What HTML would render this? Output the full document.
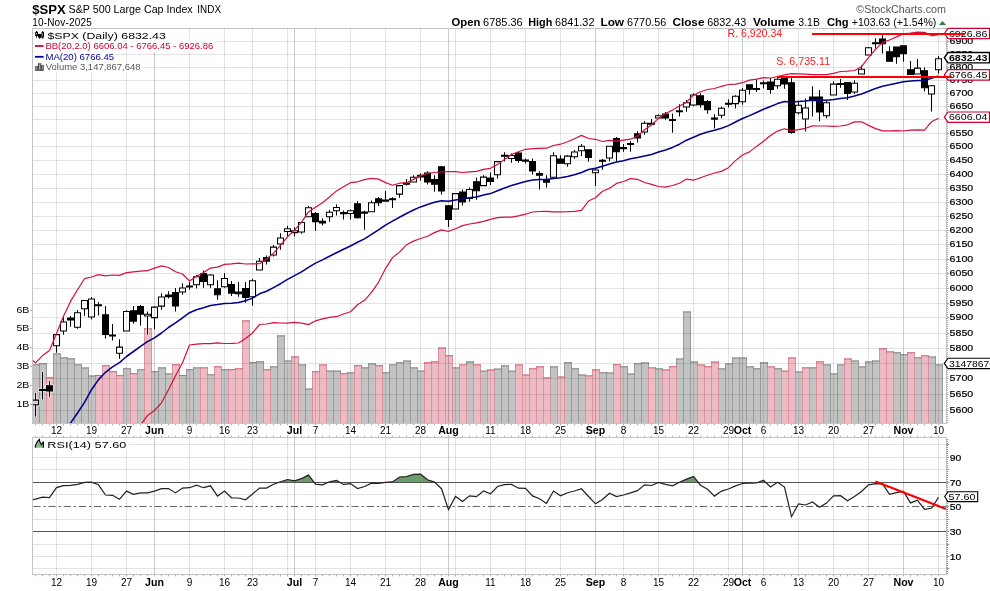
<!DOCTYPE html>
<html><head><meta charset="utf-8"><style>
html,body{margin:0;padding:0;background:#fff;}
svg{display:block;font-family:"Liberation Sans", sans-serif;will-change:transform;}
</style></head><body>
<svg width="990" height="591" viewBox="0 0 990 591">
<rect x="0" y="0" width="990" height="591" fill="#fff"/>

<text x="32.3" y="13.8" font-size="13.4" font-weight="bold" fill="#000" textLength="33.5" lengthAdjust="spacingAndGlyphs">$SPX</text>
<text x="68.6" y="13.3" font-size="10.7" fill="#000" textLength="124.1" lengthAdjust="spacingAndGlyphs">S&amp;P 500 Large Cap Index</text>
<text x="197.3" y="13.3" font-size="10.2" fill="#000" textLength="23.7" lengthAdjust="spacingAndGlyphs">INDX</text>
<text x="32.3" y="25.9" font-size="10" fill="#000" textLength="59.4" lengthAdjust="spacing">10-Nov-2025</text>
<text x="856.3" y="12.7" font-size="10.6" fill="#555" textLength="89.7" lengthAdjust="spacingAndGlyphs">&#169;StockCharts.com</text>
<text x="451.5" y="25.6" font-size="11" font-weight="bold" fill="#000" textLength="28.8" lengthAdjust="spacingAndGlyphs">Open</text>
<text x="483.1" y="25.6" font-size="10.8" fill="#000" textLength="39.6" lengthAdjust="spacingAndGlyphs">6785.36</text>
<text x="528.2" y="25.6" font-size="11" font-weight="bold" fill="#000" textLength="24.1" lengthAdjust="spacingAndGlyphs">High</text>
<text x="555.1" y="25.6" font-size="10.8" fill="#000" textLength="39.4" lengthAdjust="spacingAndGlyphs">6841.32</text>
<text x="600.4" y="25.6" font-size="11" font-weight="bold" fill="#000" textLength="23.7" lengthAdjust="spacingAndGlyphs">Low</text>
<text x="627.0" y="25.6" font-size="10.8" fill="#000" textLength="39.3" lengthAdjust="spacingAndGlyphs">6770.56</text>
<text x="672.4" y="25.6" font-size="11" font-weight="bold" fill="#000" textLength="32.1" lengthAdjust="spacingAndGlyphs">Close</text>
<text x="707.3" y="25.6" font-size="10.8" fill="#000" textLength="39.0" lengthAdjust="spacingAndGlyphs">6832.43</text>
<text x="752.9" y="25.6" font-size="11" font-weight="bold" fill="#000" textLength="42.0" lengthAdjust="spacingAndGlyphs">Volume</text>
<text x="798.3" y="25.6" font-size="10.8" fill="#000" textLength="21.6" lengthAdjust="spacingAndGlyphs">3.1B</text>
<text x="826.9" y="25.6" font-size="11" font-weight="bold" fill="#000" textLength="21.7" lengthAdjust="spacingAndGlyphs">Chg</text>
<text x="851.8" y="25.6" font-size="10.8" fill="#000" textLength="84.5" lengthAdjust="spacingAndGlyphs">+103.63 (+1.54%)</text>
<path d="M939 25 L942.5 21 L946 25 Z" fill="#2e7d32"/>
<defs><clipPath id="cp"><rect x="33" y="29" width="913" height="394"/></clipPath><clipPath id="cr"><rect x="33" y="438" width="913" height="136"/></clipPath></defs>
<g stroke="none"><g fill="#c3c3c3"><rect x="32" y="364.3" width="7" height="59.2"/><rect x="39" y="363.3" width="7" height="60.2"/><rect x="53" y="353.4" width="7" height="70.1"/><rect x="60" y="357.4" width="7" height="66.1"/><rect x="67" y="358.4" width="7" height="65.1"/><rect x="74" y="364.3" width="7" height="59.2"/><rect x="81" y="367.5" width="7" height="56.0"/><rect x="88" y="375.5" width="7" height="48.0"/><rect x="123" y="368.3" width="7" height="55.2"/><rect x="137" y="369.3" width="7" height="54.2"/><rect x="151" y="371.2" width="7" height="52.3"/><rect x="158" y="367.4" width="7" height="56.1"/><rect x="165" y="373.4" width="7" height="50.1"/><rect x="179" y="375.1" width="7" height="48.4"/><rect x="186" y="369.2" width="7" height="54.3"/><rect x="193" y="367.4" width="7" height="56.1"/><rect x="207" y="374.3" width="7" height="49.2"/><rect x="221" y="369.2" width="7" height="54.3"/><rect x="249" y="362.1" width="7" height="61.4"/><rect x="256" y="361.3" width="7" height="62.2"/><rect x="270" y="366.4" width="7" height="57.1"/><rect x="277" y="335.4" width="7" height="88.1"/><rect x="284" y="360.5" width="7" height="63.0"/><rect x="298" y="364.4" width="7" height="59.1"/><rect x="305" y="388.5" width="7" height="35.0"/><rect x="326" y="370.6" width="7" height="52.9"/><rect x="333" y="370.6" width="7" height="52.9"/><rect x="347" y="372.3" width="7" height="51.2"/><rect x="361" y="367.4" width="7" height="56.1"/><rect x="368" y="363.5" width="7" height="60.0"/><rect x="382" y="372.3" width="7" height="51.2"/><rect x="389" y="364.4" width="7" height="59.1"/><rect x="396" y="362.3" width="7" height="61.2"/><rect x="403" y="360.5" width="7" height="63.0"/><rect x="410" y="367.4" width="7" height="56.1"/><rect x="417" y="370.6" width="7" height="52.9"/><rect x="452" y="367.4" width="7" height="56.1"/><rect x="466" y="361.4" width="7" height="62.1"/><rect x="480" y="370.6" width="7" height="52.9"/><rect x="494" y="368.6" width="7" height="54.9"/><rect x="501" y="365.4" width="7" height="58.1"/><rect x="508" y="370.6" width="7" height="52.9"/><rect x="550" y="366.4" width="7" height="57.1"/><rect x="564" y="362.3" width="7" height="61.2"/><rect x="571" y="368.3" width="7" height="55.2"/><rect x="578" y="374.5" width="7" height="49.0"/><rect x="599" y="372.3" width="7" height="51.2"/><rect x="606" y="372.5" width="7" height="51.0"/><rect x="620" y="366.3" width="7" height="57.2"/><rect x="627" y="373.5" width="7" height="50.0"/><rect x="634" y="363.3" width="7" height="60.2"/><rect x="641" y="362.4" width="7" height="61.1"/><rect x="655" y="368.4" width="7" height="55.1"/><rect x="676" y="358.5" width="7" height="65.0"/><rect x="683" y="311.5" width="7" height="112.0"/><rect x="690" y="361.5" width="7" height="62.0"/><rect x="718" y="368.4" width="7" height="55.1"/><rect x="725" y="363.5" width="7" height="60.0"/><rect x="732" y="357.5" width="7" height="66.0"/><rect x="739" y="357.5" width="7" height="66.0"/><rect x="746" y="366.4" width="7" height="57.1"/><rect x="753" y="368.3" width="7" height="55.2"/><rect x="760" y="362.3" width="7" height="61.2"/><rect x="774" y="368.3" width="7" height="55.2"/><rect x="795" y="371.5" width="7" height="52.0"/><rect x="809" y="367.4" width="7" height="56.1"/><rect x="823" y="364.4" width="7" height="59.1"/><rect x="830" y="373.5" width="7" height="50.0"/><rect x="837" y="364.4" width="7" height="59.1"/><rect x="851" y="360.5" width="7" height="63.0"/><rect x="858" y="366.4" width="7" height="57.1"/><rect x="865" y="361.4" width="7" height="62.1"/><rect x="872" y="360.5" width="7" height="63.0"/><rect x="893" y="352.3" width="7" height="71.2"/><rect x="900" y="354.3" width="7" height="69.2"/><rect x="914" y="357.3" width="7" height="66.2"/><rect x="928" y="356.5" width="7" height="67.0"/><rect x="935" y="364.4" width="7" height="59.1"/></g><g fill="#ecbbc4"><rect x="46" y="377.3" width="7" height="46.2"/><rect x="95" y="375.0" width="7" height="48.5"/><rect x="102" y="365.2" width="7" height="58.3"/><rect x="109" y="371.2" width="7" height="52.3"/><rect x="116" y="375.2" width="7" height="48.3"/><rect x="130" y="373.2" width="7" height="50.3"/><rect x="144" y="328.3" width="7" height="95.2"/><rect x="172" y="364.2" width="7" height="59.3"/><rect x="200" y="367.4" width="7" height="56.1"/><rect x="214" y="366.3" width="7" height="57.2"/><rect x="228" y="369.2" width="7" height="54.3"/><rect x="235" y="368.3" width="7" height="55.2"/><rect x="242" y="320.4" width="7" height="103.1"/><rect x="263" y="369.2" width="7" height="54.3"/><rect x="291" y="356.4" width="7" height="67.1"/><rect x="312" y="371.3" width="7" height="52.2"/><rect x="319" y="364.4" width="7" height="59.1"/><rect x="340" y="373.3" width="7" height="50.2"/><rect x="354" y="365.2" width="7" height="58.3"/><rect x="375" y="365.2" width="7" height="58.3"/><rect x="424" y="362.3" width="7" height="61.2"/><rect x="431" y="361.4" width="7" height="62.1"/><rect x="438" y="347.5" width="7" height="76.0"/><rect x="445" y="355.3" width="7" height="68.2"/><rect x="459" y="364.4" width="7" height="59.1"/><rect x="473" y="364.4" width="7" height="59.1"/><rect x="487" y="369.5" width="7" height="54.0"/><rect x="515" y="364.4" width="7" height="59.1"/><rect x="522" y="374.5" width="7" height="49.0"/><rect x="529" y="368.3" width="7" height="55.2"/><rect x="536" y="366.4" width="7" height="57.1"/><rect x="543" y="377.4" width="7" height="46.1"/><rect x="557" y="376.5" width="7" height="47.0"/><rect x="585" y="375.4" width="7" height="48.1"/><rect x="592" y="369.4" width="7" height="54.1"/><rect x="613" y="364.2" width="7" height="59.3"/><rect x="648" y="367.4" width="7" height="56.1"/><rect x="662" y="369.5" width="7" height="54.0"/><rect x="669" y="366.3" width="7" height="57.2"/><rect x="697" y="364.5" width="7" height="59.0"/><rect x="704" y="366.3" width="7" height="57.2"/><rect x="711" y="361.5" width="7" height="62.0"/><rect x="767" y="366.4" width="7" height="57.1"/><rect x="781" y="370.6" width="7" height="52.9"/><rect x="788" y="357.5" width="7" height="66.0"/><rect x="802" y="367.4" width="7" height="56.1"/><rect x="816" y="361.4" width="7" height="62.1"/><rect x="844" y="358.5" width="7" height="65.0"/><rect x="879" y="348.4" width="7" height="75.1"/><rect x="886" y="351.4" width="7" height="72.1"/><rect x="907" y="352.3" width="7" height="71.2"/><rect x="921" y="355.3" width="7" height="68.2"/></g></g>
<path d="M32.5 364.3V423.5M39.5 364.3V423.5M39.5 363.3V423.5M46.5 363.3V423.5M53.5 353.4V423.5M60.5 353.4V423.5M60.5 357.4V423.5M67.5 357.4V423.5M67.5 358.4V423.5M74.5 358.4V423.5M74.5 364.3V423.5M81.5 364.3V423.5M81.5 367.5V423.5M88.5 367.5V423.5M88.5 375.5V423.5M95.5 375.5V423.5M123.5 368.3V423.5M130.5 368.3V423.5M137.5 369.3V423.5M144.5 369.3V423.5M151.5 371.2V423.5M158.5 371.2V423.5M158.5 367.4V423.5M165.5 367.4V423.5M165.5 373.4V423.5M172.5 373.4V423.5M179.5 375.1V423.5M186.5 375.1V423.5M186.5 369.2V423.5M193.5 369.2V423.5M193.5 367.4V423.5M200.5 367.4V423.5M207.5 374.3V423.5M214.5 374.3V423.5M221.5 369.2V423.5M228.5 369.2V423.5M249.5 362.1V423.5M256.5 362.1V423.5M256.5 361.3V423.5M263.5 361.3V423.5M270.5 366.4V423.5M277.5 366.4V423.5M277.5 335.4V423.5M284.5 335.4V423.5M284.5 360.5V423.5M291.5 360.5V423.5M298.5 364.4V423.5M305.5 364.4V423.5M305.5 388.5V423.5M312.5 388.5V423.5M326.5 370.6V423.5M333.5 370.6V423.5M333.5 370.6V423.5M340.5 370.6V423.5M347.5 372.3V423.5M354.5 372.3V423.5M361.5 367.4V423.5M368.5 367.4V423.5M368.5 363.5V423.5M375.5 363.5V423.5M382.5 372.3V423.5M389.5 372.3V423.5M389.5 364.4V423.5M396.5 364.4V423.5M396.5 362.3V423.5M403.5 362.3V423.5M403.5 360.5V423.5M410.5 360.5V423.5M410.5 367.4V423.5M417.5 367.4V423.5M417.5 370.6V423.5M424.5 370.6V423.5M452.5 367.4V423.5M459.5 367.4V423.5M466.5 361.4V423.5M473.5 361.4V423.5M480.5 370.6V423.5M487.5 370.6V423.5M494.5 368.6V423.5M501.5 368.6V423.5M501.5 365.4V423.5M508.5 365.4V423.5M508.5 370.6V423.5M515.5 370.6V423.5M550.5 366.4V423.5M557.5 366.4V423.5M564.5 362.3V423.5M571.5 362.3V423.5M571.5 368.3V423.5M578.5 368.3V423.5M578.5 374.5V423.5M585.5 374.5V423.5M599.5 372.3V423.5M606.5 372.3V423.5M606.5 372.5V423.5M613.5 372.5V423.5M620.5 366.3V423.5M627.5 366.3V423.5M627.5 373.5V423.5M634.5 373.5V423.5M634.5 363.3V423.5M641.5 363.3V423.5M641.5 362.4V423.5M648.5 362.4V423.5M655.5 368.4V423.5M662.5 368.4V423.5M676.5 358.5V423.5M683.5 358.5V423.5M683.5 311.5V423.5M690.5 311.5V423.5M690.5 361.5V423.5M697.5 361.5V423.5M718.5 368.4V423.5M725.5 368.4V423.5M725.5 363.5V423.5M732.5 363.5V423.5M732.5 357.5V423.5M739.5 357.5V423.5M739.5 357.5V423.5M746.5 357.5V423.5M746.5 366.4V423.5M753.5 366.4V423.5M753.5 368.3V423.5M760.5 368.3V423.5M760.5 362.3V423.5M767.5 362.3V423.5M774.5 368.3V423.5M781.5 368.3V423.5M795.5 371.5V423.5M802.5 371.5V423.5M809.5 367.4V423.5M816.5 367.4V423.5M823.5 364.4V423.5M830.5 364.4V423.5M830.5 373.5V423.5M837.5 373.5V423.5M837.5 364.4V423.5M844.5 364.4V423.5M851.5 360.5V423.5M858.5 360.5V423.5M858.5 366.4V423.5M865.5 366.4V423.5M865.5 361.4V423.5M872.5 361.4V423.5M872.5 360.5V423.5M879.5 360.5V423.5M893.5 352.3V423.5M900.5 352.3V423.5M900.5 354.3V423.5M907.5 354.3V423.5M914.5 357.3V423.5M921.5 357.3V423.5M928.5 356.5V423.5M935.5 356.5V423.5M935.5 364.4V423.5M942.5 364.4V423.5" stroke="#9a9a9a" stroke-width="1" fill="none"/>
<path d="M46.5 377.3V423.5M53.5 377.3V423.5M95.5 375.0V423.5M102.5 375.0V423.5M102.5 365.2V423.5M109.5 365.2V423.5M109.5 371.2V423.5M116.5 371.2V423.5M116.5 375.2V423.5M123.5 375.2V423.5M130.5 373.2V423.5M137.5 373.2V423.5M144.5 328.3V423.5M151.5 328.3V423.5M172.5 364.2V423.5M179.5 364.2V423.5M200.5 367.4V423.5M207.5 367.4V423.5M214.5 366.3V423.5M221.5 366.3V423.5M228.5 369.2V423.5M235.5 369.2V423.5M235.5 368.3V423.5M242.5 368.3V423.5M242.5 320.4V423.5M249.5 320.4V423.5M263.5 369.2V423.5M270.5 369.2V423.5M291.5 356.4V423.5M298.5 356.4V423.5M312.5 371.3V423.5M319.5 371.3V423.5M319.5 364.4V423.5M326.5 364.4V423.5M340.5 373.3V423.5M347.5 373.3V423.5M354.5 365.2V423.5M361.5 365.2V423.5M375.5 365.2V423.5M382.5 365.2V423.5M424.5 362.3V423.5M431.5 362.3V423.5M431.5 361.4V423.5M438.5 361.4V423.5M438.5 347.5V423.5M445.5 347.5V423.5M445.5 355.3V423.5M452.5 355.3V423.5M459.5 364.4V423.5M466.5 364.4V423.5M473.5 364.4V423.5M480.5 364.4V423.5M487.5 369.5V423.5M494.5 369.5V423.5M515.5 364.4V423.5M522.5 364.4V423.5M522.5 374.5V423.5M529.5 374.5V423.5M529.5 368.3V423.5M536.5 368.3V423.5M536.5 366.4V423.5M543.5 366.4V423.5M543.5 377.4V423.5M550.5 377.4V423.5M557.5 376.5V423.5M564.5 376.5V423.5M585.5 375.4V423.5M592.5 375.4V423.5M592.5 369.4V423.5M599.5 369.4V423.5M613.5 364.2V423.5M620.5 364.2V423.5M648.5 367.4V423.5M655.5 367.4V423.5M662.5 369.5V423.5M669.5 369.5V423.5M669.5 366.3V423.5M676.5 366.3V423.5M697.5 364.5V423.5M704.5 364.5V423.5M704.5 366.3V423.5M711.5 366.3V423.5M711.5 361.5V423.5M718.5 361.5V423.5M767.5 366.4V423.5M774.5 366.4V423.5M781.5 370.6V423.5M788.5 370.6V423.5M788.5 357.5V423.5M795.5 357.5V423.5M802.5 367.4V423.5M809.5 367.4V423.5M816.5 361.4V423.5M823.5 361.4V423.5M844.5 358.5V423.5M851.5 358.5V423.5M879.5 348.4V423.5M886.5 348.4V423.5M886.5 351.4V423.5M893.5 351.4V423.5M907.5 352.3V423.5M914.5 352.3V423.5M921.5 355.3V423.5M928.5 355.3V423.5" stroke="#dc93a0" stroke-width="1" fill="none"/>
<path d="M32 364.8H40M39 363.8H47M53 353.9H61M60 357.9H68M67 358.9H75M74 364.8H82M81 368.0H89M88 376.0H96M123 368.8H131M137 369.8H145M151 371.7H159M158 367.9H166M165 373.9H173M179 375.6H187M186 369.7H194M193 367.9H201M207 374.8H215M221 369.7H229M249 362.6H257M256 361.8H264M270 366.9H278M277 335.9H285M284 361.0H292M298 364.9H306M305 389.0H313M326 371.1H334M333 371.1H341M347 372.8H355M361 367.9H369M368 364.0H376M382 372.8H390M389 364.9H397M396 362.8H404M403 361.0H411M410 367.9H418M417 371.1H425M452 367.9H460M466 361.9H474M480 371.1H488M494 369.1H502M501 365.9H509M508 371.1H516M550 366.9H558M564 362.8H572M571 368.8H579M578 375.0H586M599 372.8H607M606 373.0H614M620 366.8H628M627 374.0H635M634 363.8H642M641 362.9H649M655 368.9H663M676 359.0H684M683 312.0H691M690 362.0H698M718 368.9H726M725 364.0H733M732 358.0H740M739 358.0H747M746 366.9H754M753 368.8H761M760 362.8H768M774 368.8H782M795 372.0H803M809 367.9H817M823 364.9H831M830 374.0H838M837 364.9H845M851 361.0H859M858 366.9H866M865 361.9H873M872 361.0H880M893 352.8H901M900 354.8H908M914 357.8H922M928 357.0H936M935 364.9H943" stroke="#858585" stroke-width="1" fill="none"/>
<path d="M46 377.8H54M95 375.5H103M102 365.7H110M109 371.7H117M116 375.7H124M130 373.7H138M144 328.8H152M172 364.7H180M200 367.9H208M214 366.8H222M228 369.7H236M235 368.8H243M242 320.9H250M263 369.7H271M291 356.9H299M312 371.8H320M319 364.9H327M340 373.8H348M354 365.7H362M375 365.7H383M424 362.8H432M431 361.9H439M438 348.0H446M445 355.8H453M459 364.9H467M473 364.9H481M487 370.0H495M515 364.9H523M522 375.0H530M529 368.8H537M536 366.9H544M543 377.9H551M557 377.0H565M585 375.9H593M592 369.9H600M613 364.7H621M648 367.9H656M662 370.0H670M669 366.8H677M697 365.0H705M704 366.8H712M711 362.0H719M767 366.9H775M781 371.1H789M788 358.0H796M802 367.9H810M816 361.9H824M844 359.0H852M879 348.9H887M886 351.9H894M907 352.8H915M921 355.8H929" stroke="#d06476" stroke-width="1" fill="none"/>
<path d="M32.5 410.5H946.5M32.5 394.5H946.5M32.5 378.5H946.5M32.5 363.5H946.5M32.5 348.5H946.5M32.5 333.5H946.5M32.5 317.5H946.5M32.5 303.5H946.5M32.5 288.5H946.5M32.5 273.5H946.5M32.5 259.5H946.5M32.5 244.5H946.5M32.5 230.5H946.5M32.5 216.5H946.5M32.5 202.5H946.5M32.5 188.5H946.5M32.5 174.5H946.5M32.5 160.5H946.5M32.5 146.5H946.5M32.5 133.5H946.5M32.5 119.5H946.5M32.5 106.5H946.5M32.5 93.5H946.5M32.5 80.5H946.5M32.5 67.5H946.5M32.5 54.5H946.5M32.5 41.5H946.5" stroke="#000" stroke-opacity="0.11" stroke-width="1" fill="none"/>
<path d="M56.5 28.5V423.5M56.5 437.5V574.5M91.5 28.5V423.5M91.5 437.5V574.5M126.5 28.5V423.5M126.5 437.5V574.5M189.5 28.5V423.5M189.5 437.5V574.5M224.5 28.5V423.5M224.5 437.5V574.5M252.5 28.5V423.5M252.5 437.5V574.5M287.5 28.5V423.5M287.5 437.5V574.5M315.5 28.5V423.5M315.5 437.5V574.5M350.5 28.5V423.5M350.5 437.5V574.5M385.5 28.5V423.5M385.5 437.5V574.5M420.5 28.5V423.5M420.5 437.5V574.5M455.5 28.5V423.5M455.5 437.5V574.5M490.5 28.5V423.5M490.5 437.5V574.5M525.5 28.5V423.5M525.5 437.5V574.5M560.5 28.5V423.5M560.5 437.5V574.5M623.5 28.5V423.5M623.5 437.5V574.5M658.5 28.5V423.5M658.5 437.5V574.5M693.5 28.5V423.5M693.5 437.5V574.5M728.5 28.5V423.5M728.5 437.5V574.5M763.5 28.5V423.5M763.5 437.5V574.5M798.5 28.5V423.5M798.5 437.5V574.5M833.5 28.5V423.5M833.5 437.5V574.5M868.5 28.5V423.5M868.5 437.5V574.5M938.5 28.5V423.5M938.5 437.5V574.5" stroke="#000" stroke-opacity="0.11" stroke-width="1" fill="none"/>
<path d="M154.5 28.5V423.5M154.5 437.5V574.5M294.5 28.5V423.5M294.5 437.5V574.5M448.5 28.5V423.5M448.5 437.5V574.5M595.5 28.5V423.5M595.5 437.5V574.5M742.5 28.5V423.5M742.5 437.5V574.5M903.5 28.5V423.5M903.5 437.5V574.5" stroke="#000" stroke-opacity="0.2" stroke-width="1" fill="none"/>
<g clip-path="url(#cp)">
<path d="M35.5 392.6V399.6M35.5 405.3V417.0M32.5 400.1h6v4.7h-6ZM42.5 371.5V388.9M42.5 390.9V400.1M39.5 389.4h6v1.0h-6ZM49.5 380.7V385.3M49.5 391.6V397.3M46.5 385.8h6v5.3h-6ZM56.5 333.0V334.1M56.5 346.3V353.3M53.5 334.6h6v11.2h-6ZM63.5 316.7V321.4M63.5 331.5V335.3M60.5 321.9h6v9.1h-6ZM70.5 315.5V317.6M70.5 320.4V327.2M67.5 318.1h6v1.8h-6ZM77.5 309.6V312.3M77.5 327.7V329.3M74.5 312.8h6v14.4h-6ZM84.5 309.2V316.3M81.5 300.4h6v8.3h-6ZM91.5 296.6V298.4M91.5 317.5V320.1M88.5 298.9h6v18.1h-6ZM98.5 301.4V304.2M98.5 306.2V316.0M95.5 304.8h6v1.0h-6ZM105.5 305.6V314.3M105.5 334.9V339.1M102.5 314.8h6v19.6h-6ZM112.5 323.6V334.4M112.5 336.4V341.1M109.5 334.9h6v1.0h-6ZM119.5 338.7V346.6M119.5 353.7V359.2M116.5 347.1h6v6.1h-6ZM126.5 309.7V310.9M123.5 311.4h6v19.6h-6ZM133.5 305.6V310.2M133.5 321.6V324.3M130.5 310.7h6v10.4h-6ZM140.5 304.6V306.1M140.5 314.6V326.1M137.5 306.6h6v7.5h-6ZM147.5 310.9V313.8M147.5 316.6V335.2M144.5 314.3h6v1.8h-6ZM154.5 305.8V306.6M154.5 318.1V330.0M151.5 307.1h6v10.5h-6ZM161.5 292.7V296.4M161.5 306.6V310.3M158.5 296.9h6v9.2h-6ZM168.5 290.7V294.4M168.5 297.1V299.1M165.5 294.9h6v1.7h-6ZM175.5 287.6V292.0M175.5 306.5V312.1M172.5 292.5h6v13.5h-6ZM182.5 282.7V287.5M182.5 292.4V295.3M179.5 288.0h6v3.9h-6ZM189.5 281.5V285.4M189.5 287.4V290.2M186.5 285.9h6v1.0h-6ZM196.5 274.6V276.3M196.5 285.3V289.0M193.5 276.8h6v8.0h-6ZM203.5 269.9V273.1M203.5 282.0V288.2M200.5 273.6h6v7.9h-6ZM210.5 273.8V274.4M210.5 285.3V288.2M207.5 274.9h6v9.9h-6ZM217.5 279.7V288.3M217.5 295.3V300.2M214.5 288.8h6v6.0h-6ZM224.5 272.6V277.9M224.5 287.3V288.2M221.5 278.4h6v8.4h-6ZM231.5 280.5V284.1M231.5 293.6V296.5M228.5 284.6h6v8.5h-6ZM238.5 281.5V291.5M238.5 294.2V297.3M235.5 292.0h6v1.7h-6ZM245.5 281.5V288.1M245.5 298.0V303.2M242.5 288.6h6v8.9h-6ZM252.5 278.3V280.2M252.5 297.1V306.2M249.5 280.8h6v15.9h-6ZM259.5 257.6V260.7M256.5 261.2h6v8.7h-6ZM266.5 255.0V257.1M266.5 261.6V264.9M263.5 257.6h6v3.5h-6ZM273.5 244.6V246.6M273.5 255.4V257.1M270.5 247.1h6v7.8h-6ZM280.5 232.7V237.4M280.5 244.5V250.3M277.5 237.9h6v6.1h-6ZM287.5 225.3V228.3M287.5 232.0V236.7M284.5 228.8h6v2.7h-6ZM294.5 226.8V230.3M294.5 233.1V236.9M291.5 230.8h6v1.8h-6ZM301.5 232.4V234.3M298.5 222.4h6v9.5h-6ZM308.5 205.5V207.3M305.5 207.8h6v8.9h-6ZM315.5 211.4V213.1M315.5 222.1V231.4M312.5 213.6h6v8.0h-6ZM322.5 217.7V220.8M322.5 223.4V226.0M319.5 221.3h6v1.6h-6ZM329.5 209.6V211.8M329.5 217.2V222.2M326.5 212.3h6v4.4h-6ZM336.5 203.7V207.0M336.5 211.3V216.0M333.5 207.5h6v3.3h-6ZM343.5 209.9V212.1M343.5 214.1V220.1M340.5 212.6h6v1.0h-6ZM350.5 209.0V210.3M350.5 213.9V220.1M347.5 210.8h6v2.6h-6ZM357.5 200.8V203.3M357.5 218.2V218.9M354.5 203.8h6v13.9h-6ZM364.5 210.2V211.6M364.5 213.6V230.2M361.5 212.1h6v1.0h-6ZM371.5 199.9V202.2M368.5 202.7h6v9.1h-6ZM378.5 196.6V198.3M378.5 203.3V206.5M375.5 198.8h6v4.0h-6ZM385.5 190.5V199.6M382.5 200.1h6v1.0h-6ZM392.5 196.8V198.2M392.5 200.2V208.5M389.5 198.7h6v1.0h-6ZM399.5 184.5V185.1M399.5 194.6V198.2M396.5 185.6h6v8.5h-6ZM406.5 178.5V182.6M406.5 184.7V186.0M403.5 183.1h6v1.1h-6ZM413.5 174.7V176.8M410.5 177.3h6v4.7h-6ZM420.5 172.8V174.8M420.5 177.4V181.2M417.5 175.3h6v1.6h-6ZM427.5 170.8V172.4M427.5 182.6V185.1M424.5 172.9h6v9.2h-6ZM434.5 174.7V178.9M434.5 184.8V192.2M431.5 179.4h6v4.9h-6ZM441.5 165.5V166.2M441.5 191.4V195.1M438.5 166.7h6v24.2h-6ZM448.5 204.5V205.2M448.5 219.8V227.4M445.5 205.7h6v13.7h-6ZM455.5 192.5V193.1M452.5 193.6h6v15.4h-6ZM462.5 189.1V191.4M462.5 202.6V206.1M459.5 191.9h6v10.2h-6ZM469.5 187.0V188.9M469.5 199.1V202.2M466.5 189.4h6v9.2h-6ZM476.5 177.0V181.3M476.5 191.2V200.2M473.5 181.8h6v8.9h-6ZM483.5 174.7V176.6M480.5 177.1h6v8.5h-6ZM490.5 171.9V177.5M490.5 181.9V185.4M487.5 178.0h6v3.4h-6ZM497.5 160.5V161.1M497.5 175.3V179.0M494.5 161.6h6v13.2h-6ZM504.5 151.7V154.7M504.5 156.7V162.0M501.5 155.2h6v1.0h-6ZM511.5 152.9V154.9M511.5 159.1V163.2M508.5 155.4h6v3.2h-6ZM518.5 151.1V152.5M518.5 160.9V163.2M515.5 153.0h6v7.4h-6ZM525.5 157.9V159.6M525.5 161.6V164.0M522.5 160.1h6v1.0h-6ZM532.5 157.9V161.1M532.5 171.4V175.0M529.5 161.6h6v9.3h-6ZM539.5 170.7V172.9M539.5 175.8V190.0M536.5 173.4h6v1.8h-6ZM546.5 174.8V179.2M546.5 182.8V188.0M543.5 179.7h6v2.6h-6ZM553.5 151.7V155.3M550.5 155.8h6v21.4h-6ZM560.5 154.7V158.4M557.5 158.9h6v4.4h-6ZM567.5 154.7V155.6M567.5 164.3V167.2M564.5 156.1h6v7.7h-6ZM574.5 149.6V151.4M574.5 157.2V159.3M571.5 151.9h6v4.8h-6ZM581.5 143.4V145.8M581.5 151.3V156.5M578.5 146.3h6v4.5h-6ZM588.5 158.0V162.2M585.5 149.8h6v7.7h-6ZM595.5 168.8V169.4M595.5 173.3V186.5M592.5 169.9h6v2.9h-6ZM602.5 158.6V159.8M602.5 161.8V170.2M599.5 160.3h6v1.0h-6ZM609.5 158.6V162.1M606.5 146.2h6v11.8h-6ZM616.5 136.5V138.1M616.5 152.2V162.1M613.5 138.6h6v13.1h-6ZM623.5 143.6V147.1M623.5 149.1V152.2M620.5 147.6h6v1.0h-6ZM630.5 140.8V142.9M630.5 145.1V152.2M627.5 143.4h6v1.2h-6ZM637.5 130.7V133.2M637.5 138.5V143.0M634.5 133.7h6v4.3h-6ZM644.5 120.7V122.7M644.5 132.5V135.2M641.5 123.2h6v8.8h-6ZM651.5 118.6V122.8M648.5 123.3h6v1.0h-6ZM658.5 113.8V115.3M655.5 115.8h6v2.2h-6ZM665.5 111.5V113.4M665.5 118.5V120.2M662.5 113.9h6v4.0h-6ZM672.5 112.9V118.9M672.5 120.9V133.2M669.5 119.4h6v1.0h-6ZM679.5 103.8V110.3M679.5 112.3V117.0M676.5 110.8h6v1.0h-6ZM686.5 99.6V102.2M686.5 107.5V112.2M683.5 102.7h6v4.3h-6ZM693.5 92.8V94.5M693.5 105.5V106.8M690.5 95.0h6v10.0h-6ZM700.5 92.8V95.2M700.5 105.1V108.3M697.5 95.7h6v8.9h-6ZM707.5 99.6V101.1M707.5 110.1V114.3M704.5 101.6h6v8.0h-6ZM714.5 113.8V117.6M714.5 119.6V129.1M711.5 118.1h6v1.0h-6ZM721.5 105.9V107.7M721.5 115.7V118.8M718.5 108.2h6v7.0h-6ZM728.5 98.8V102.7M728.5 104.7V107.9M725.5 103.2h6v1.0h-6ZM735.5 94.7V95.8M735.5 104.1V109.1M732.5 96.3h6v7.3h-6ZM742.5 87.6V89.8M742.5 102.3V105.2M739.5 90.3h6v11.5h-6ZM749.5 89.7V95.1M746.5 84.7h6v4.5h-6ZM756.5 78.5V87.9M756.5 89.9V92.5M753.5 88.4h6v1.0h-6ZM763.5 79.9V82.2M763.5 84.2V88.9M760.5 82.7h6v1.0h-6ZM770.5 77.5V81.6M770.5 89.9V94.2M767.5 82.1h6v7.3h-6ZM777.5 77.8V78.7M777.5 86.3V89.2M774.5 79.2h6v6.6h-6ZM784.5 84.5V89.2M781.5 78.5h6v5.5h-6ZM791.5 77.8V82.2M791.5 133.0V134.2M788.5 82.7h6v49.8h-6ZM798.5 101.2V104.8M798.5 113.3V115.0M795.5 105.3h6v7.5h-6ZM805.5 97.9V107.5M805.5 119.5V132.1M802.5 108.0h6v11.0h-6ZM812.5 85.8V96.4M812.5 101.3V117.0M809.5 96.9h6v3.9h-6ZM819.5 89.6V96.4M819.5 112.5V121.8M816.5 96.9h6v15.1h-6ZM826.5 100.3V102.3M826.5 116.2V118.8M823.5 102.8h6v12.9h-6ZM833.5 80.7V83.6M830.5 84.1h6v10.8h-6ZM840.5 78.6V82.9M840.5 84.9V88.3M837.5 83.4h6v1.0h-6ZM847.5 93.9V100.5M844.5 82.6h6v10.8h-6ZM854.5 79.8V82.7M854.5 92.5V94.5M851.5 83.2h6v8.8h-6ZM861.5 65.0V68.8M858.5 69.3h6v4.6h-6ZM868.5 46.5V47.2M865.5 47.7h6v7.3h-6ZM875.5 37.8V42.2M875.5 44.2V48.9M872.5 42.8h6v1.0h-6ZM882.5 34.8V38.5M882.5 44.2V53.9M879.5 39.0h6v4.7h-6ZM889.5 45.8V51.3M886.5 51.8h6v9.5h-6ZM896.5 57.1V64.3M893.5 47.1h6v9.5h-6ZM903.5 54.1V62.2M900.5 45.7h6v7.9h-6ZM910.5 60.5V69.3M907.5 69.8h6v4.6h-6ZM917.5 58.5V67.6M914.5 68.1h6v5.8h-6ZM924.5 66.8V70.3M924.5 88.3V92.1M921.5 70.8h6v17.0h-6ZM931.5 84.5V85.2M931.5 94.5V112.1M928.5 85.7h6v8.3h-6ZM938.5 55.6V58.2M938.5 70.3V74.3M935.5 58.7h6v11.1h-6Z" stroke="#fff" stroke-opacity="0.5" stroke-width="3" fill="none"/>
<path d="M35.5 393.1V400.1M35.5 404.8V416.5M42.5 372.0V389.4M42.5 390.4V399.6M49.5 381.2V385.8M49.5 391.1V396.8M56.5 333.5V334.6M56.5 345.8V352.8M63.5 317.2V321.9M63.5 331.0V334.8M70.5 316.0V318.1M70.5 319.9V326.7M77.5 310.1V312.8M77.5 327.2V328.8M84.5 308.7V315.8M91.5 297.1V298.9M91.5 317.0V319.6M98.5 301.9V304.8M98.5 305.8V315.5M105.5 306.1V314.8M105.5 334.4V338.6M112.5 324.1V334.9M112.5 335.9V340.6M119.5 339.2V347.1M119.5 353.2V358.7M126.5 310.2V311.4M133.5 306.1V310.7M133.5 321.1V323.8M140.5 305.1V306.6M140.5 314.1V325.6M147.5 311.4V314.3M147.5 316.1V334.7M154.5 306.3V307.1M154.5 317.6V329.5M161.5 293.2V296.9M161.5 306.1V309.8M168.5 291.2V294.9M168.5 296.6V298.6M175.5 288.1V292.5M175.5 306.0V311.6M182.5 283.2V288.0M182.5 291.9V294.8M189.5 282.0V285.9M189.5 286.9V289.7M196.5 275.1V276.8M196.5 284.8V288.5M203.5 270.4V273.6M203.5 281.5V287.7M210.5 274.3V274.9M210.5 284.8V287.7M217.5 280.2V288.8M217.5 294.8V299.7M224.5 273.1V278.4M224.5 286.8V287.7M231.5 281.0V284.6M231.5 293.1V296.0M238.5 282.0V292.0M238.5 293.7V296.8M245.5 282.0V288.6M245.5 297.5V302.7M252.5 278.8V280.8M252.5 296.6V305.7M259.5 258.1V261.2M266.5 255.5V257.6M266.5 261.1V264.4M273.5 245.1V247.1M273.5 254.9V256.6M280.5 233.2V237.9M280.5 244.0V249.8M287.5 225.8V228.8M287.5 231.5V236.2M294.5 227.3V230.8M294.5 232.6V236.4M301.5 231.9V233.8M308.5 206.0V207.8M315.5 211.9V213.6M315.5 221.6V230.9M322.5 218.2V221.3M322.5 222.9V225.5M329.5 210.1V212.3M329.5 216.7V221.7M336.5 204.2V207.5M336.5 210.8V215.5M343.5 210.4V212.6M343.5 213.6V219.6M350.5 209.5V210.8M350.5 213.4V219.6M357.5 201.3V203.8M357.5 217.7V218.4M364.5 210.7V212.1M364.5 213.1V229.7M371.5 200.4V202.7M378.5 197.1V198.8M378.5 202.8V206.0M385.5 191.0V200.1M392.5 197.3V198.7M392.5 199.7V208.0M399.5 185.0V185.6M399.5 194.1V197.7M406.5 179.0V183.1M406.5 184.2V185.5M413.5 175.2V177.3M420.5 173.3V175.3M420.5 176.9V180.7M427.5 171.3V172.9M427.5 182.1V184.6M434.5 175.2V179.4M434.5 184.3V191.7M441.5 166.0V166.7M441.5 190.9V194.6M448.5 205.0V205.7M448.5 219.3V226.9M455.5 193.0V193.6M462.5 189.6V191.9M462.5 202.1V205.6M469.5 187.5V189.4M469.5 198.6V201.7M476.5 177.5V181.8M476.5 190.7V199.7M483.5 175.2V177.1M490.5 172.4V178.0M490.5 181.4V184.9M497.5 161.0V161.6M497.5 174.8V178.5M504.5 152.2V155.2M504.5 156.2V161.5M511.5 153.4V155.4M511.5 158.6V162.7M518.5 151.6V153.0M518.5 160.4V162.7M525.5 158.4V160.1M525.5 161.1V163.5M532.5 158.4V161.6M532.5 170.9V174.5M539.5 171.2V173.4M539.5 175.2V189.5M546.5 175.3V179.7M546.5 182.3V187.5M553.5 152.2V155.8M560.5 155.2V158.9M567.5 155.2V156.1M567.5 163.8V166.7M574.5 150.1V151.9M574.5 156.7V158.8M581.5 143.9V146.3M581.5 150.8V156.0M588.5 157.5V161.7M595.5 169.3V169.9M595.5 172.8V186.0M602.5 159.1V160.3M602.5 161.3V169.7M609.5 158.1V161.6M616.5 137.0V138.6M616.5 151.7V161.6M623.5 144.1V147.6M623.5 148.6V151.7M630.5 141.3V143.4M630.5 144.6V151.7M637.5 131.2V133.7M637.5 138.0V142.5M644.5 121.2V123.2M644.5 132.0V134.7M651.5 119.1V123.3M658.5 114.3V115.8M665.5 112.0V113.9M665.5 118.0V119.7M672.5 113.4V119.4M672.5 120.4V132.7M679.5 104.3V110.8M679.5 111.8V116.5M686.5 100.1V102.7M686.5 107.0V111.7M693.5 93.3V95.0M693.5 105.0V106.3M700.5 93.3V95.7M700.5 104.6V107.8M707.5 100.1V101.6M707.5 109.6V113.8M714.5 114.3V118.1M714.5 119.1V128.6M721.5 106.4V108.2M721.5 115.2V118.3M728.5 99.3V103.2M728.5 104.2V107.4M735.5 95.2V96.3M735.5 103.6V108.6M742.5 88.1V90.3M742.5 101.8V104.7M749.5 89.2V94.6M756.5 79.0V88.4M756.5 89.4V92.0M763.5 80.4V82.7M763.5 83.7V88.4M770.5 78.0V82.1M770.5 89.4V93.7M777.5 78.3V79.2M777.5 85.8V88.7M784.5 84.0V88.7M791.5 78.3V82.7M791.5 132.5V133.7M798.5 101.7V105.3M798.5 112.8V114.5M805.5 98.4V108.0M805.5 119.0V131.6M812.5 86.3V96.9M812.5 100.8V116.5M819.5 90.1V96.9M819.5 112.0V121.3M826.5 100.8V102.8M826.5 115.7V118.3M833.5 81.2V84.1M840.5 79.1V83.4M840.5 84.4V87.8M847.5 93.4V100.0M854.5 80.3V83.2M854.5 92.0V94.0M861.5 65.5V69.3M868.5 47.0V47.7M875.5 38.3V42.8M875.5 43.8V48.4M882.5 35.3V39.0M882.5 43.7V53.4M889.5 46.3V51.8M896.5 56.6V63.8M903.5 53.6V61.7M910.5 61.0V69.8M917.5 59.0V68.1M924.5 67.3V70.8M924.5 87.8V91.6M931.5 85.0V85.7M931.5 94.0V111.6M938.5 56.1V58.7M938.5 69.8V73.8" stroke="#000" stroke-width="1.05" fill="none"/>
<path d="M46.5 385.8h6v5.3h-6ZM67.5 318.1h6v1.8h-6ZM95.5 304.8h6v1.0h-6ZM102.5 314.8h6v19.6h-6ZM109.5 334.9h6v1.0h-6ZM130.5 310.7h6v10.4h-6ZM137.5 306.6h6v7.5h-6ZM165.5 294.9h6v1.7h-6ZM172.5 292.5h6v13.5h-6ZM200.5 273.6h6v7.9h-6ZM214.5 288.8h6v6.0h-6ZM228.5 284.6h6v8.5h-6ZM235.5 292.0h6v1.7h-6ZM242.5 288.6h6v8.9h-6ZM263.5 257.6h6v3.5h-6ZM312.5 213.6h6v8.0h-6ZM319.5 221.3h6v1.6h-6ZM340.5 212.6h6v1.0h-6ZM354.5 203.8h6v13.9h-6ZM375.5 198.8h6v4.0h-6ZM382.5 200.1h6v1.0h-6ZM389.5 198.7h6v1.0h-6ZM403.5 183.1h6v1.1h-6ZM417.5 175.3h6v1.6h-6ZM424.5 172.9h6v9.2h-6ZM431.5 179.4h6v4.9h-6ZM438.5 166.7h6v24.2h-6ZM445.5 205.7h6v13.7h-6ZM459.5 191.9h6v10.2h-6ZM473.5 181.8h6v8.9h-6ZM487.5 178.0h6v3.4h-6ZM501.5 155.2h6v1.0h-6ZM515.5 153.0h6v7.4h-6ZM522.5 160.1h6v1.0h-6ZM529.5 161.6h6v9.3h-6ZM536.5 173.4h6v1.8h-6ZM543.5 179.7h6v2.6h-6ZM557.5 158.9h6v4.4h-6ZM585.5 149.8h6v7.7h-6ZM599.5 160.3h6v1.0h-6ZM613.5 138.6h6v13.1h-6ZM620.5 147.6h6v1.0h-6ZM634.5 133.7h6v4.3h-6ZM648.5 123.3h6v1.0h-6ZM662.5 113.9h6v4.0h-6ZM669.5 119.4h6v1.0h-6ZM697.5 95.7h6v8.9h-6ZM704.5 101.6h6v8.0h-6ZM711.5 118.1h6v1.0h-6ZM725.5 103.2h6v1.0h-6ZM746.5 84.7h6v4.5h-6ZM753.5 88.4h6v1.0h-6ZM767.5 82.1h6v7.3h-6ZM781.5 78.5h6v5.5h-6ZM788.5 82.7h6v49.8h-6ZM809.5 96.9h6v3.9h-6ZM816.5 96.9h6v15.1h-6ZM837.5 83.4h6v1.0h-6ZM844.5 82.6h6v10.8h-6ZM872.5 42.8h6v1.0h-6ZM879.5 39.0h6v4.7h-6ZM886.5 51.8h6v9.5h-6ZM893.5 47.1h6v9.5h-6ZM900.5 45.7h6v7.9h-6ZM907.5 69.8h6v4.6h-6ZM921.5 70.8h6v17.0h-6Z" fill="#000" stroke="#000" stroke-width="1.05"/>
<path d="M32.5 400.1h6v4.7h-6ZM39.5 389.4h6v1.0h-6ZM53.5 334.6h6v11.2h-6ZM60.5 321.9h6v9.1h-6ZM74.5 312.8h6v14.4h-6ZM81.5 300.4h6v8.3h-6ZM88.5 298.9h6v18.1h-6ZM116.5 347.1h6v6.1h-6ZM123.5 311.4h6v19.6h-6ZM144.5 314.3h6v1.8h-6ZM151.5 307.1h6v10.5h-6ZM158.5 296.9h6v9.2h-6ZM179.5 288.0h6v3.9h-6ZM186.5 285.9h6v1.0h-6ZM193.5 276.8h6v8.0h-6ZM207.5 274.9h6v9.9h-6ZM221.5 278.4h6v8.4h-6ZM249.5 280.8h6v15.9h-6ZM256.5 261.2h6v8.7h-6ZM270.5 247.1h6v7.8h-6ZM277.5 237.9h6v6.1h-6ZM284.5 228.8h6v2.7h-6ZM291.5 230.8h6v1.8h-6ZM298.5 222.4h6v9.5h-6ZM305.5 207.8h6v8.9h-6ZM326.5 212.3h6v4.4h-6ZM333.5 207.5h6v3.3h-6ZM347.5 210.8h6v2.6h-6ZM361.5 212.1h6v1.0h-6ZM368.5 202.7h6v9.1h-6ZM396.5 185.6h6v8.5h-6ZM410.5 177.3h6v4.7h-6ZM452.5 193.6h6v15.4h-6ZM466.5 189.4h6v9.2h-6ZM480.5 177.1h6v8.5h-6ZM494.5 161.6h6v13.2h-6ZM508.5 155.4h6v3.2h-6ZM550.5 155.8h6v21.4h-6ZM564.5 156.1h6v7.7h-6ZM571.5 151.9h6v4.8h-6ZM578.5 146.3h6v4.5h-6ZM592.5 169.9h6v2.9h-6ZM606.5 146.2h6v11.8h-6ZM627.5 143.4h6v1.2h-6ZM641.5 123.2h6v8.8h-6ZM655.5 115.8h6v2.2h-6ZM676.5 110.8h6v1.0h-6ZM683.5 102.7h6v4.3h-6ZM690.5 95.0h6v10.0h-6ZM718.5 108.2h6v7.0h-6ZM732.5 96.3h6v7.3h-6ZM739.5 90.3h6v11.5h-6ZM760.5 82.7h6v1.0h-6ZM774.5 79.2h6v6.6h-6ZM795.5 105.3h6v7.5h-6ZM802.5 108.0h6v11.0h-6ZM823.5 102.8h6v12.9h-6ZM830.5 84.1h6v10.8h-6ZM851.5 83.2h6v8.8h-6ZM858.5 69.3h6v4.6h-6ZM865.5 47.7h6v7.3h-6ZM914.5 68.1h6v5.8h-6ZM928.5 85.7h6v8.3h-6ZM935.5 58.7h6v11.1h-6Z" fill="none" stroke="#000" stroke-width="1.05"/>
</g>
<g clip-path="url(#cp)" fill="none" stroke-linejoin="round"><polyline points="28.5,356.5 35.5,362.9 42.5,355.6 49.5,350.5 56.5,333.6 63.5,316.3 70.5,301.4 77.5,289.8 84.5,278.7 91.5,277.0 98.5,274.6 105.5,275.8 112.5,275.0 119.5,275.4 126.5,272.6 133.5,271.8 140.5,271.1 147.5,270.7 154.5,268.1 161.5,265.9 168.5,267.5 175.5,271.7 182.5,274.0 189.5,281.0 196.5,276.2 203.5,272.6 210.5,268.1 217.5,267.1 224.5,264.4 231.5,263.9 238.5,263.1 245.5,264.0 252.5,263.9 259.5,263.7 266.5,259.2 273.5,253.1 280.5,245.3 287.5,236.8 294.5,230.1 301.5,222.1 308.5,211.9 315.5,207.3 322.5,202.8 329.5,197.0 336.5,190.9 343.5,186.8 350.5,182.7 357.5,181.8 364.5,179.6 371.5,178.4 378.5,179.1 385.5,182.6 392.5,185.3 399.5,183.2 406.5,182.7 413.5,179.4 420.5,175.9 427.5,173.5 434.5,172.5 441.5,172.0 448.5,171.6 455.5,171.6 462.5,172.5 469.5,171.9 476.5,171.3 483.5,169.3 490.5,168.3 497.5,164.4 504.5,159.4 511.5,154.6 518.5,151.8 525.5,149.3 532.5,148.7 539.5,148.3 546.5,148.2 553.5,145.5 560.5,144.2 567.5,141.8 574.5,138.8 581.5,135.4 588.5,138.5 595.5,139.3 602.5,141.5 609.5,140.3 616.5,141.2 623.5,140.1 630.5,139.2 637.5,136.2 644.5,129.8 651.5,124.9 658.5,118.4 665.5,113.5 672.5,110.1 679.5,106.1 686.5,102.2 693.5,95.2 700.5,91.8 707.5,89.5 714.5,88.5 721.5,86.3 728.5,84.5 735.5,84.2 742.5,82.7 749.5,80.1 756.5,79.2 763.5,77.7 770.5,78.0 777.5,76.5 784.5,74.9 791.5,73.7 798.5,73.9 805.5,74.2 812.5,74.7 819.5,74.6 826.5,74.6 833.5,73.3 840.5,71.5 847.5,71.1 854.5,70.5 861.5,66.7 868.5,57.7 875.5,49.4 882.5,42.6 889.5,40.0 896.5,36.9 903.5,33.8 910.5,33.1 917.5,32.2 924.5,32.3 931.5,35.8 938.5,34.6" stroke="#d4103c" stroke-width="1.2"/><polyline points="28.5,584.0 35.5,554.4 42.5,555.5 49.5,547.8 56.5,550.4 63.5,553.7 70.5,553.9 77.5,545.3 84.5,535.3 91.5,510.1 98.5,491.2 105.5,474.4 112.5,463.7 119.5,454.3 126.5,444.6 133.5,435.1 140.5,424.8 147.5,415.6 154.5,410.5 161.5,402.8 168.5,389.7 175.5,375.7 182.5,362.8 189.5,345.0 196.5,344.1 203.5,343.7 210.5,343.7 217.5,342.9 224.5,343.5 231.5,343.4 238.5,343.0 245.5,338.4 252.5,333.0 259.5,324.5 266.5,324.0 273.5,322.7 280.5,323.0 287.5,323.1 294.5,322.3 301.5,323.1 308.5,324.6 315.5,320.8 322.5,318.9 329.5,317.4 336.5,316.7 343.5,314.0 350.5,311.7 357.5,304.8 364.5,300.3 371.5,292.3 378.5,282.3 385.5,268.6 392.5,257.6 399.5,252.1 406.5,244.8 413.5,241.1 420.5,238.5 427.5,236.2 434.5,232.6 441.5,229.9 448.5,231.5 455.5,228.7 462.5,225.6 469.5,224.0 476.5,222.9 483.5,221.3 490.5,219.4 497.5,217.7 504.5,217.1 511.5,217.2 518.5,215.8 525.5,214.2 532.5,212.0 539.5,211.5 546.5,211.3 553.5,211.9 560.5,211.8 567.5,211.7 574.5,211.4 581.5,210.4 588.5,201.0 595.5,197.8 602.5,191.3 609.5,188.2 616.5,183.4 623.5,181.5 630.5,178.6 637.5,179.3 644.5,182.5 651.5,184.4 658.5,186.5 665.5,187.2 672.5,185.5 679.5,183.2 686.5,179.1 693.5,180.2 700.5,177.7 707.5,175.3 714.5,173.0 721.5,171.4 728.5,167.7 735.5,160.6 742.5,155.0 749.5,151.9 756.5,146.4 763.5,141.3 770.5,135.5 777.5,131.1 784.5,128.8 791.5,130.9 798.5,129.7 805.5,128.3 812.5,125.9 819.5,126.0 826.5,126.0 833.5,126.4 840.5,126.0 847.5,124.8 854.5,121.9 861.5,121.8 868.5,125.4 875.5,128.6 882.5,130.9 889.5,130.8 896.5,130.7 903.5,131.0 910.5,130.2 917.5,129.9 924.5,130.2 931.5,121.8 938.5,118.3" stroke="#d4103c" stroke-width="1.2"/><polyline points="28.5,466.6 35.5,456.1 42.5,452.7 49.5,446.4 56.5,438.7 63.5,431.0 70.5,423.1 77.5,413.0 84.5,402.3 91.5,389.7 98.5,379.6 105.5,372.3 112.5,366.8 119.5,362.6 126.5,356.5 133.5,351.5 140.5,346.3 147.5,341.6 154.5,337.9 161.5,333.0 168.5,327.5 175.5,322.9 182.5,317.9 189.5,312.7 196.5,309.8 203.5,307.8 210.5,305.5 217.5,304.6 224.5,303.5 231.5,303.2 238.5,302.6 245.5,300.8 252.5,298.1 259.5,293.8 266.5,291.3 273.5,287.6 280.5,283.7 287.5,279.4 294.5,275.6 301.5,271.9 308.5,267.4 315.5,263.1 322.5,259.9 329.5,256.2 336.5,252.7 343.5,249.3 350.5,246.0 357.5,242.2 364.5,238.9 371.5,234.4 378.5,229.9 385.5,225.1 392.5,221.1 399.5,217.3 406.5,213.5 413.5,210.0 420.5,206.9 427.5,204.6 434.5,202.3 441.5,200.7 448.5,201.3 455.5,199.9 462.5,198.9 469.5,197.7 476.5,196.9 483.5,195.1 490.5,193.6 497.5,190.8 504.5,188.0 511.5,185.6 518.5,183.5 525.5,181.5 532.5,180.1 539.5,179.6 546.5,179.5 553.5,178.4 560.5,177.7 567.5,176.4 574.5,174.8 581.5,172.5 588.5,169.5 595.5,168.3 602.5,166.2 609.5,164.1 616.5,162.1 623.5,160.7 630.5,158.8 637.5,157.6 644.5,156.0 651.5,154.4 658.5,152.1 665.5,150.0 672.5,147.4 679.5,144.2 686.5,140.2 693.5,137.2 700.5,134.2 707.5,131.9 714.5,130.2 721.5,128.3 728.5,125.6 735.5,122.0 742.5,118.5 749.5,115.6 756.5,112.5 763.5,109.2 770.5,106.5 777.5,103.6 784.5,101.6 791.5,102.1 798.5,101.5 805.5,101.0 812.5,100.1 819.5,100.1 826.5,100.2 833.5,99.6 840.5,98.6 847.5,97.8 854.5,96.0 861.5,94.0 868.5,91.2 875.5,88.6 882.5,86.2 889.5,84.8 896.5,83.2 903.5,81.7 910.5,81.0 917.5,80.4 924.5,80.6 931.5,78.3 938.5,76.0" stroke="#000088" stroke-width="1.55"/></g>
<text x="727.5" y="36.9" font-size="10.4" fill="#ff1a1a" textLength="54.7" lengthAdjust="spacingAndGlyphs">R. 6,920.34</text>
<text x="776.3" y="65.4" font-size="10.4" fill="#ff1a1a" textLength="53.8" lengthAdjust="spacingAndGlyphs">S. 6,735.11</text>
<rect x="32.5" y="28.5" width="914.0" height="395.0" fill="none" stroke="#c4c4c4" stroke-width="1"/>
<rect x="32.5" y="437.5" width="914.0" height="137.0" fill="none" stroke="#c4c4c4" stroke-width="1"/>
<g><text x="949.6" y="412.8" font-size="9.1" fill="#000" textLength="23.6" lengthAdjust="spacingAndGlyphs" stroke="#000" stroke-width="0.2">5600</text><text x="949.6" y="396.8" font-size="9.1" fill="#000" textLength="23.6" lengthAdjust="spacingAndGlyphs" stroke="#000" stroke-width="0.2">5650</text><text x="949.6" y="380.8" font-size="9.1" fill="#000" textLength="23.6" lengthAdjust="spacingAndGlyphs" stroke="#000" stroke-width="0.2">5700</text><text x="949.6" y="365.8" font-size="9.1" fill="#000" textLength="23.6" lengthAdjust="spacingAndGlyphs" stroke="#000" stroke-width="0.2">5750</text><text x="949.6" y="350.8" font-size="9.1" fill="#000" textLength="23.6" lengthAdjust="spacingAndGlyphs" stroke="#000" stroke-width="0.2">5800</text><text x="949.6" y="335.8" font-size="9.1" fill="#000" textLength="23.6" lengthAdjust="spacingAndGlyphs" stroke="#000" stroke-width="0.2">5850</text><text x="949.6" y="319.8" font-size="9.1" fill="#000" textLength="23.6" lengthAdjust="spacingAndGlyphs" stroke="#000" stroke-width="0.2">5900</text><text x="949.6" y="305.8" font-size="9.1" fill="#000" textLength="23.6" lengthAdjust="spacingAndGlyphs" stroke="#000" stroke-width="0.2">5950</text><text x="949.6" y="290.8" font-size="9.1" fill="#000" textLength="23.6" lengthAdjust="spacingAndGlyphs" stroke="#000" stroke-width="0.2">6000</text><text x="949.6" y="275.8" font-size="9.1" fill="#000" textLength="23.6" lengthAdjust="spacingAndGlyphs" stroke="#000" stroke-width="0.2">6050</text><text x="949.6" y="261.8" font-size="9.1" fill="#000" textLength="23.6" lengthAdjust="spacingAndGlyphs" stroke="#000" stroke-width="0.2">6100</text><text x="949.6" y="246.8" font-size="9.1" fill="#000" textLength="23.6" lengthAdjust="spacingAndGlyphs" stroke="#000" stroke-width="0.2">6150</text><text x="949.6" y="232.8" font-size="9.1" fill="#000" textLength="23.6" lengthAdjust="spacingAndGlyphs" stroke="#000" stroke-width="0.2">6200</text><text x="949.6" y="218.8" font-size="9.1" fill="#000" textLength="23.6" lengthAdjust="spacingAndGlyphs" stroke="#000" stroke-width="0.2">6250</text><text x="949.6" y="204.8" font-size="9.1" fill="#000" textLength="23.6" lengthAdjust="spacingAndGlyphs" stroke="#000" stroke-width="0.2">6300</text><text x="949.6" y="190.8" font-size="9.1" fill="#000" textLength="23.6" lengthAdjust="spacingAndGlyphs" stroke="#000" stroke-width="0.2">6350</text><text x="949.6" y="176.8" font-size="9.1" fill="#000" textLength="23.6" lengthAdjust="spacingAndGlyphs" stroke="#000" stroke-width="0.2">6400</text><text x="949.6" y="162.8" font-size="9.1" fill="#000" textLength="23.6" lengthAdjust="spacingAndGlyphs" stroke="#000" stroke-width="0.2">6450</text><text x="949.6" y="148.8" font-size="9.1" fill="#000" textLength="23.6" lengthAdjust="spacingAndGlyphs" stroke="#000" stroke-width="0.2">6500</text><text x="949.6" y="135.8" font-size="9.1" fill="#000" textLength="23.6" lengthAdjust="spacingAndGlyphs" stroke="#000" stroke-width="0.2">6550</text><text x="949.6" y="121.8" font-size="9.1" fill="#000" textLength="23.6" lengthAdjust="spacingAndGlyphs" stroke="#000" stroke-width="0.2">6600</text><text x="949.6" y="108.8" font-size="9.1" fill="#000" textLength="23.6" lengthAdjust="spacingAndGlyphs" stroke="#000" stroke-width="0.2">6650</text><text x="949.6" y="95.8" font-size="9.1" fill="#000" textLength="23.6" lengthAdjust="spacingAndGlyphs" stroke="#000" stroke-width="0.2">6700</text><text x="949.6" y="82.8" font-size="9.1" fill="#000" textLength="23.6" lengthAdjust="spacingAndGlyphs" stroke="#000" stroke-width="0.2">6750</text><text x="949.6" y="69.8" font-size="9.1" fill="#000" textLength="23.6" lengthAdjust="spacingAndGlyphs" stroke="#000" stroke-width="0.2">6800</text><text x="949.6" y="56.8" font-size="9.1" fill="#000" textLength="23.6" lengthAdjust="spacingAndGlyphs" stroke="#000" stroke-width="0.2">6850</text><text x="949.6" y="43.8" font-size="9.1" fill="#000" textLength="23.6" lengthAdjust="spacingAndGlyphs" stroke="#000" stroke-width="0.2">6900</text></g>
<path d="M946.5 30.5H948M946.5 32.5H948M946.5 34.5H948M946.5 36.5H948M946.5 38.5H948M946.5 40.5H948M946.5 42.5H948M946.5 44.5H948M946.5 46.5H948M946.5 48.5H948M946.5 50.5H948M946.5 52.5H948M946.5 54.5H948M946.5 56.5H948M946.5 58.5H948M946.5 60.5H948M946.5 62.5H948M946.5 64.5H948M946.5 66.5H948M946.5 68.5H948M946.5 70.5H948M946.5 72.5H948M946.5 74.5H948M946.5 76.5H948M946.5 78.5H948M946.5 80.5H948M946.5 82.5H948M946.5 84.5H948M946.5 86.5H948M946.5 88.5H948M946.5 90.5H948M946.5 92.5H948M946.5 94.5H948M946.5 96.5H948M946.5 98.5H948M946.5 100.5H948M946.5 102.5H948M946.5 104.5H948M946.5 106.5H948M946.5 108.5H948M946.5 110.5H948M946.5 112.5H948M946.5 114.5H948M946.5 116.5H948M946.5 118.5H948M946.5 120.5H948M946.5 122.5H948M946.5 124.5H948M946.5 126.5H948M946.5 128.5H948M946.5 130.5H948M946.5 132.5H948M946.5 134.5H948M946.5 136.5H948M946.5 138.5H948M946.5 140.5H948M946.5 142.5H948M946.5 144.5H948M946.5 146.5H948M946.5 148.5H948M946.5 150.5H948M946.5 152.5H948M946.5 154.5H948M946.5 156.5H948M946.5 158.5H948M946.5 160.5H948M946.5 162.5H948M946.5 164.5H948M946.5 166.5H948M946.5 168.5H948M946.5 170.5H948M946.5 172.5H948M946.5 174.5H948M946.5 176.5H948M946.5 178.5H948M946.5 180.5H948M946.5 182.5H948M946.5 184.5H948M946.5 186.5H948M946.5 188.5H948M946.5 190.5H948M946.5 192.5H948M946.5 194.5H948M946.5 196.5H948M946.5 198.5H948M946.5 200.5H948M946.5 202.5H948M946.5 204.5H948M946.5 206.5H948M946.5 208.5H948M946.5 210.5H948M946.5 212.5H948M946.5 214.5H948M946.5 216.5H948M946.5 218.5H948M946.5 220.5H948M946.5 222.5H948M946.5 224.5H948M946.5 226.5H948M946.5 228.5H948M946.5 230.5H948M946.5 232.5H948M946.5 234.5H948M946.5 236.5H948M946.5 238.5H948M946.5 240.5H948M946.5 242.5H948M946.5 244.5H948M946.5 246.5H948M946.5 248.5H948M946.5 250.5H948M946.5 252.5H948M946.5 254.5H948M946.5 256.5H948M946.5 258.5H948M946.5 260.5H948M946.5 262.5H948M946.5 264.5H948M946.5 266.5H948M946.5 268.5H948M946.5 270.5H948M946.5 272.5H948M946.5 274.5H948M946.5 276.5H948M946.5 278.5H948M946.5 280.5H948M946.5 282.5H948M946.5 284.5H948M946.5 286.5H948M946.5 288.5H948M946.5 290.5H948M946.5 292.5H948M946.5 294.5H948M946.5 296.5H948M946.5 298.5H948M946.5 300.5H948M946.5 302.5H948M946.5 304.5H948M946.5 306.5H948M946.5 308.5H948M946.5 310.5H948M946.5 312.5H948M946.5 314.5H948M946.5 316.5H948M946.5 318.5H948M946.5 320.5H948M946.5 322.5H948M946.5 324.5H948M946.5 326.5H948M946.5 328.5H948M946.5 330.5H948M946.5 332.5H948M946.5 334.5H948M946.5 336.5H948M946.5 338.5H948M946.5 340.5H948M946.5 342.5H948M946.5 344.5H948M946.5 346.5H948M946.5 348.5H948M946.5 350.5H948M946.5 352.5H948M946.5 354.5H948M946.5 356.5H948M946.5 358.5H948M946.5 360.5H948M946.5 362.5H948M946.5 364.5H948M946.5 366.5H948M946.5 368.5H948M946.5 370.5H948M946.5 372.5H948M946.5 374.5H948M946.5 376.5H948M946.5 378.5H948M946.5 380.5H948M946.5 382.5H948M946.5 384.5H948M946.5 386.5H948M946.5 388.5H948M946.5 390.5H948M946.5 392.5H948M946.5 394.5H948M946.5 396.5H948M946.5 398.5H948M946.5 400.5H948M946.5 402.5H948M946.5 404.5H948M946.5 406.5H948M946.5 408.5H948M946.5 410.5H948M946.5 412.5H948M946.5 414.5H948M946.5 416.5H948M946.5 418.5H948M946.5 420.5H948M946.5 422.5H948M946.5 410.5H949.2M946.5 394.5H949.2M946.5 378.5H949.2M946.5 363.5H949.2M946.5 348.5H949.2M946.5 333.5H949.2M946.5 317.5H949.2M946.5 303.5H949.2M946.5 288.5H949.2M946.5 273.5H949.2M946.5 259.5H949.2M946.5 244.5H949.2M946.5 230.5H949.2M946.5 216.5H949.2M946.5 202.5H949.2M946.5 188.5H949.2M946.5 174.5H949.2M946.5 160.5H949.2M946.5 146.5H949.2M946.5 133.5H949.2M946.5 119.5H949.2M946.5 106.5H949.2M946.5 93.5H949.2M946.5 80.5H949.2M946.5 67.5H949.2M946.5 54.5H949.2M946.5 41.5H949.2" stroke="#b0b0b0" stroke-width="1"/>
<path d="M944.4 33.5 L948 28.3 H989.5 V38.7 H948 Z" fill="#fff" stroke="#cc0033" stroke-width="1.2"/><text x="948.9" y="36.5" font-size="9.1" fill="#000" textLength="38.5" lengthAdjust="spacingAndGlyphs">6926.86</text>
<path d="M944.4 57.7 L948 52.5 H989.5 V62.9 H948 Z" fill="#fff" stroke="#000" stroke-width="1.4"/><text x="948.9" y="60.9" font-size="9.6" font-weight="bold" fill="#000" textLength="38.5" lengthAdjust="spacingAndGlyphs">6832.43</text>
<path d="M944.4 74.9 L948 69.7 H989.5 V80.1 H948 Z" fill="#fff" stroke="#cc0033" stroke-width="1.2"/><text x="948.9" y="77.9" font-size="9.1" fill="#000" textLength="38.5" lengthAdjust="spacingAndGlyphs">6766.45</text>
<path d="M944.4 117.2 L948 112.0 H989.5 V122.4 H948 Z" fill="#fff" stroke="#cc0033" stroke-width="1.2"/><text x="948.9" y="120.2" font-size="9.1" fill="#000" textLength="38.5" lengthAdjust="spacingAndGlyphs">6606.04</text>
<path d="M944.3 363.4L948 358.3H996V368.6H948Z" fill="#fff" stroke="#000" stroke-width="1.1"/><text x="948.9" y="366.7" font-size="9.1" fill="#000" textLength="57.8" lengthAdjust="spacingAndGlyphs">3147867648</text>
<path d="M812 34H965" stroke="#ff0000" stroke-width="2"/>
<path d="M777 76.9H952" stroke="#ff0000" stroke-width="2"/>
<g><text x="16.5" y="407.2" font-size="9.4" fill="#000" textLength="12.9" lengthAdjust="spacingAndGlyphs">1B</text><text x="16.5" y="388.2" font-size="9.4" fill="#000" textLength="12.9" lengthAdjust="spacingAndGlyphs">2B</text><text x="16.5" y="369.2" font-size="9.4" fill="#000" textLength="12.9" lengthAdjust="spacingAndGlyphs">3B</text><text x="16.5" y="350.2" font-size="9.4" fill="#000" textLength="12.9" lengthAdjust="spacingAndGlyphs">4B</text><text x="16.5" y="331.2" font-size="9.4" fill="#000" textLength="12.9" lengthAdjust="spacingAndGlyphs">5B</text><text x="16.5" y="313.2" font-size="9.4" fill="#000" textLength="12.9" lengthAdjust="spacingAndGlyphs">6B</text></g>
<path d="M30 404.5H32M30 385.5H32M30 366.5H32M30 347.5H32M30 328.5H32M30 310.5H32" stroke="#b0b0b0" stroke-width="1"/>
<g fill="#fff"><rect x="33" y="29" width="135" height="11.5"/><rect x="33" y="40.5" width="182.5" height="11.8"/><rect x="33" y="52.3" width="82.8" height="11"/><rect x="33" y="63.3" width="109" height="9.5"/></g>
<text x="47.4" y="38.6" font-size="8.6" fill="#000" textLength="118.4" lengthAdjust="spacingAndGlyphs">$SPX (Daily) 6832.43</text>
<text x="45.4" y="49.2" font-size="8.6" fill="#cc0033" textLength="167.8" lengthAdjust="spacingAndGlyphs">BB(20,2.0) 6606.04 - 6766.45 - 6926.86</text>
<text x="45.4" y="60.1" font-size="8.6" fill="#000099" textLength="68.8" lengthAdjust="spacingAndGlyphs">MA(20) 6766.45</text>
<text x="45.8" y="70.4" font-size="8.6" fill="#555" textLength="94.7" lengthAdjust="spacingAndGlyphs">Volume 3,147,867,648</text>
<path d="M35 46H43.6" stroke="#cc0033" stroke-width="1.8"/>
<path d="M35 56.8H43.6" stroke="#000099" stroke-width="1.8"/>
<path d="M36.6 31V32.4M36.6 35.4V37.6M39.8 37.4V39M42.75 31V32.6M42.75 36.8V38.9" stroke="#000" stroke-width="1"/>
<rect x="35.7" y="32.4" width="1.8" height="3" fill="none" stroke="#000" stroke-width="1"/>
<rect x="38" y="33.9" width="3.6" height="3.8" fill="#000"/>
<rect x="42" y="32.6" width="1.5" height="4.2" fill="none" stroke="#000" stroke-width="1"/>
<g fill="#aaa" stroke="#444" stroke-width="1"><rect x="35.7" y="66.7" width="2.2" height="3.6"/><rect x="41.3" y="65.7" width="2.0" height="4.6"/><rect x="38.4" y="63.8" width="2.4" height="6.5"/></g>

<g font-size="10" fill="#000"><text x="56.5" y="433.5" text-anchor="middle">12</text><text x="91.5" y="433.5" text-anchor="middle">19</text><text x="126.5" y="433.5" text-anchor="middle">27</text><text x="154.5" y="433.5" text-anchor="middle" font-weight="bold" font-size="10.6">Jun</text><text x="189.5" y="433.5" text-anchor="middle">9</text><text x="224.5" y="433.5" text-anchor="middle">16</text><text x="252.5" y="433.5" text-anchor="middle">23</text><text x="294.5" y="433.5" text-anchor="middle" font-weight="bold" font-size="10.6">Jul</text><text x="315.5" y="433.5" text-anchor="middle">7</text><text x="350.5" y="433.5" text-anchor="middle">14</text><text x="385.5" y="433.5" text-anchor="middle">21</text><text x="420.5" y="433.5" text-anchor="middle">28</text><text x="448.5" y="433.5" text-anchor="middle" font-weight="bold" font-size="10.6">Aug</text><text x="490.5" y="433.5" text-anchor="middle">11</text><text x="525.5" y="433.5" text-anchor="middle">18</text><text x="560.5" y="433.5" text-anchor="middle">25</text><text x="595.5" y="433.5" text-anchor="middle" font-weight="bold" font-size="10.6">Sep</text><text x="623.5" y="433.5" text-anchor="middle">8</text><text x="658.5" y="433.5" text-anchor="middle">15</text><text x="693.5" y="433.5" text-anchor="middle">22</text><text x="728.5" y="433.5" text-anchor="middle">29</text><text x="742.5" y="433.5" text-anchor="middle" font-weight="bold" font-size="10.6">Oct</text><text x="763.5" y="433.5" text-anchor="middle">6</text><text x="798.5" y="433.5" text-anchor="middle">13</text><text x="833.5" y="433.5" text-anchor="middle">20</text><text x="868.5" y="433.5" text-anchor="middle">27</text><text x="903.5" y="433.5" text-anchor="middle" font-weight="bold" font-size="10.6">Nov</text><text x="938.5" y="433.5" text-anchor="middle">10</text><text x="56.5" y="585.5" text-anchor="middle">12</text><text x="91.5" y="585.5" text-anchor="middle">19</text><text x="126.5" y="585.5" text-anchor="middle">27</text><text x="154.5" y="585.5" text-anchor="middle" font-weight="bold" font-size="10.6">Jun</text><text x="189.5" y="585.5" text-anchor="middle">9</text><text x="224.5" y="585.5" text-anchor="middle">16</text><text x="252.5" y="585.5" text-anchor="middle">23</text><text x="294.5" y="585.5" text-anchor="middle" font-weight="bold" font-size="10.6">Jul</text><text x="315.5" y="585.5" text-anchor="middle">7</text><text x="350.5" y="585.5" text-anchor="middle">14</text><text x="385.5" y="585.5" text-anchor="middle">21</text><text x="420.5" y="585.5" text-anchor="middle">28</text><text x="448.5" y="585.5" text-anchor="middle" font-weight="bold" font-size="10.6">Aug</text><text x="490.5" y="585.5" text-anchor="middle">11</text><text x="525.5" y="585.5" text-anchor="middle">18</text><text x="560.5" y="585.5" text-anchor="middle">25</text><text x="595.5" y="585.5" text-anchor="middle" font-weight="bold" font-size="10.6">Sep</text><text x="623.5" y="585.5" text-anchor="middle">8</text><text x="658.5" y="585.5" text-anchor="middle">15</text><text x="693.5" y="585.5" text-anchor="middle">22</text><text x="728.5" y="585.5" text-anchor="middle">29</text><text x="742.5" y="585.5" text-anchor="middle" font-weight="bold" font-size="10.6">Oct</text><text x="763.5" y="585.5" text-anchor="middle">6</text><text x="798.5" y="585.5" text-anchor="middle">13</text><text x="833.5" y="585.5" text-anchor="middle">20</text><text x="868.5" y="585.5" text-anchor="middle">27</text><text x="903.5" y="585.5" text-anchor="middle" font-weight="bold" font-size="10.6">Nov</text><text x="938.5" y="585.5" text-anchor="middle">10</text></g>
<path d="M35.5 424V425.3M35.5 435.7V437M35.5 575V576.3M42.5 424V425.3M42.5 435.7V437M42.5 575V576.3M49.5 424V425.3M49.5 435.7V437M49.5 575V576.3M56.5 424V425.3M56.5 435.7V437M56.5 575V576.3M63.5 424V425.3M63.5 435.7V437M63.5 575V576.3M70.5 424V425.3M70.5 435.7V437M70.5 575V576.3M77.5 424V425.3M77.5 435.7V437M77.5 575V576.3M84.5 424V425.3M84.5 435.7V437M84.5 575V576.3M91.5 424V425.3M91.5 435.7V437M91.5 575V576.3M98.5 424V425.3M98.5 435.7V437M98.5 575V576.3M105.5 424V425.3M105.5 435.7V437M105.5 575V576.3M112.5 424V425.3M112.5 435.7V437M112.5 575V576.3M119.5 424V425.3M119.5 435.7V437M119.5 575V576.3M126.5 424V425.3M126.5 435.7V437M126.5 575V576.3M133.5 424V425.3M133.5 435.7V437M133.5 575V576.3M140.5 424V425.3M140.5 435.7V437M140.5 575V576.3M147.5 424V425.3M147.5 435.7V437M147.5 575V576.3M154.5 424V425.3M154.5 435.7V437M154.5 575V576.3M161.5 424V425.3M161.5 435.7V437M161.5 575V576.3M168.5 424V425.3M168.5 435.7V437M168.5 575V576.3M175.5 424V425.3M175.5 435.7V437M175.5 575V576.3M182.5 424V425.3M182.5 435.7V437M182.5 575V576.3M189.5 424V425.3M189.5 435.7V437M189.5 575V576.3M196.5 424V425.3M196.5 435.7V437M196.5 575V576.3M203.5 424V425.3M203.5 435.7V437M203.5 575V576.3M210.5 424V425.3M210.5 435.7V437M210.5 575V576.3M217.5 424V425.3M217.5 435.7V437M217.5 575V576.3M224.5 424V425.3M224.5 435.7V437M224.5 575V576.3M231.5 424V425.3M231.5 435.7V437M231.5 575V576.3M238.5 424V425.3M238.5 435.7V437M238.5 575V576.3M245.5 424V425.3M245.5 435.7V437M245.5 575V576.3M252.5 424V425.3M252.5 435.7V437M252.5 575V576.3M259.5 424V425.3M259.5 435.7V437M259.5 575V576.3M266.5 424V425.3M266.5 435.7V437M266.5 575V576.3M273.5 424V425.3M273.5 435.7V437M273.5 575V576.3M280.5 424V425.3M280.5 435.7V437M280.5 575V576.3M287.5 424V425.3M287.5 435.7V437M287.5 575V576.3M294.5 424V425.3M294.5 435.7V437M294.5 575V576.3M301.5 424V425.3M301.5 435.7V437M301.5 575V576.3M308.5 424V425.3M308.5 435.7V437M308.5 575V576.3M315.5 424V425.3M315.5 435.7V437M315.5 575V576.3M322.5 424V425.3M322.5 435.7V437M322.5 575V576.3M329.5 424V425.3M329.5 435.7V437M329.5 575V576.3M336.5 424V425.3M336.5 435.7V437M336.5 575V576.3M343.5 424V425.3M343.5 435.7V437M343.5 575V576.3M350.5 424V425.3M350.5 435.7V437M350.5 575V576.3M357.5 424V425.3M357.5 435.7V437M357.5 575V576.3M364.5 424V425.3M364.5 435.7V437M364.5 575V576.3M371.5 424V425.3M371.5 435.7V437M371.5 575V576.3M378.5 424V425.3M378.5 435.7V437M378.5 575V576.3M385.5 424V425.3M385.5 435.7V437M385.5 575V576.3M392.5 424V425.3M392.5 435.7V437M392.5 575V576.3M399.5 424V425.3M399.5 435.7V437M399.5 575V576.3M406.5 424V425.3M406.5 435.7V437M406.5 575V576.3M413.5 424V425.3M413.5 435.7V437M413.5 575V576.3M420.5 424V425.3M420.5 435.7V437M420.5 575V576.3M427.5 424V425.3M427.5 435.7V437M427.5 575V576.3M434.5 424V425.3M434.5 435.7V437M434.5 575V576.3M441.5 424V425.3M441.5 435.7V437M441.5 575V576.3M448.5 424V425.3M448.5 435.7V437M448.5 575V576.3M455.5 424V425.3M455.5 435.7V437M455.5 575V576.3M462.5 424V425.3M462.5 435.7V437M462.5 575V576.3M469.5 424V425.3M469.5 435.7V437M469.5 575V576.3M476.5 424V425.3M476.5 435.7V437M476.5 575V576.3M483.5 424V425.3M483.5 435.7V437M483.5 575V576.3M490.5 424V425.3M490.5 435.7V437M490.5 575V576.3M497.5 424V425.3M497.5 435.7V437M497.5 575V576.3M504.5 424V425.3M504.5 435.7V437M504.5 575V576.3M511.5 424V425.3M511.5 435.7V437M511.5 575V576.3M518.5 424V425.3M518.5 435.7V437M518.5 575V576.3M525.5 424V425.3M525.5 435.7V437M525.5 575V576.3M532.5 424V425.3M532.5 435.7V437M532.5 575V576.3M539.5 424V425.3M539.5 435.7V437M539.5 575V576.3M546.5 424V425.3M546.5 435.7V437M546.5 575V576.3M553.5 424V425.3M553.5 435.7V437M553.5 575V576.3M560.5 424V425.3M560.5 435.7V437M560.5 575V576.3M567.5 424V425.3M567.5 435.7V437M567.5 575V576.3M574.5 424V425.3M574.5 435.7V437M574.5 575V576.3M581.5 424V425.3M581.5 435.7V437M581.5 575V576.3M588.5 424V425.3M588.5 435.7V437M588.5 575V576.3M595.5 424V425.3M595.5 435.7V437M595.5 575V576.3M602.5 424V425.3M602.5 435.7V437M602.5 575V576.3M609.5 424V425.3M609.5 435.7V437M609.5 575V576.3M616.5 424V425.3M616.5 435.7V437M616.5 575V576.3M623.5 424V425.3M623.5 435.7V437M623.5 575V576.3M630.5 424V425.3M630.5 435.7V437M630.5 575V576.3M637.5 424V425.3M637.5 435.7V437M637.5 575V576.3M644.5 424V425.3M644.5 435.7V437M644.5 575V576.3M651.5 424V425.3M651.5 435.7V437M651.5 575V576.3M658.5 424V425.3M658.5 435.7V437M658.5 575V576.3M665.5 424V425.3M665.5 435.7V437M665.5 575V576.3M672.5 424V425.3M672.5 435.7V437M672.5 575V576.3M679.5 424V425.3M679.5 435.7V437M679.5 575V576.3M686.5 424V425.3M686.5 435.7V437M686.5 575V576.3M693.5 424V425.3M693.5 435.7V437M693.5 575V576.3M700.5 424V425.3M700.5 435.7V437M700.5 575V576.3M707.5 424V425.3M707.5 435.7V437M707.5 575V576.3M714.5 424V425.3M714.5 435.7V437M714.5 575V576.3M721.5 424V425.3M721.5 435.7V437M721.5 575V576.3M728.5 424V425.3M728.5 435.7V437M728.5 575V576.3M735.5 424V425.3M735.5 435.7V437M735.5 575V576.3M742.5 424V425.3M742.5 435.7V437M742.5 575V576.3M749.5 424V425.3M749.5 435.7V437M749.5 575V576.3M756.5 424V425.3M756.5 435.7V437M756.5 575V576.3M763.5 424V425.3M763.5 435.7V437M763.5 575V576.3M770.5 424V425.3M770.5 435.7V437M770.5 575V576.3M777.5 424V425.3M777.5 435.7V437M777.5 575V576.3M784.5 424V425.3M784.5 435.7V437M784.5 575V576.3M791.5 424V425.3M791.5 435.7V437M791.5 575V576.3M798.5 424V425.3M798.5 435.7V437M798.5 575V576.3M805.5 424V425.3M805.5 435.7V437M805.5 575V576.3M812.5 424V425.3M812.5 435.7V437M812.5 575V576.3M819.5 424V425.3M819.5 435.7V437M819.5 575V576.3M826.5 424V425.3M826.5 435.7V437M826.5 575V576.3M833.5 424V425.3M833.5 435.7V437M833.5 575V576.3M840.5 424V425.3M840.5 435.7V437M840.5 575V576.3M847.5 424V425.3M847.5 435.7V437M847.5 575V576.3M854.5 424V425.3M854.5 435.7V437M854.5 575V576.3M861.5 424V425.3M861.5 435.7V437M861.5 575V576.3M868.5 424V425.3M868.5 435.7V437M868.5 575V576.3M875.5 424V425.3M875.5 435.7V437M875.5 575V576.3M882.5 424V425.3M882.5 435.7V437M882.5 575V576.3M889.5 424V425.3M889.5 435.7V437M889.5 575V576.3M896.5 424V425.3M896.5 435.7V437M896.5 575V576.3M903.5 424V425.3M903.5 435.7V437M903.5 575V576.3M910.5 424V425.3M910.5 435.7V437M910.5 575V576.3M917.5 424V425.3M917.5 435.7V437M917.5 575V576.3M924.5 424V425.3M924.5 435.7V437M924.5 575V576.3M931.5 424V425.3M931.5 435.7V437M931.5 575V576.3M938.5 424V425.3M938.5 435.7V437M938.5 575V576.3" stroke="#aaa" stroke-width="1"/>
<path d="M32.5 568.5H946.5M32.5 556.5H946.5M32.5 544.5H946.5M32.5 519.5H946.5M32.5 494.5H946.5M32.5 469.5H946.5M32.5 457.5H946.5M32.5 444.5H946.5" stroke="#000" stroke-opacity="0.11" stroke-width="1"/>
<path d="M32.5 482.5H946.5M32.5 531.5H946.5" stroke="#555" stroke-width="1"/>
<path d="M32.5 506.5H946.5" stroke="#666" stroke-width="1" stroke-dasharray="7.2,3,2.2,2.75" stroke-dashoffset="-0.85"/>
<path d="M91.31 482.06L91.50 482.05L91.50 482.06ZM91.50 482.06L91.50 482.05L91.52 482.06ZM279.69 482.06L280.50 481.78L280.50 482.06ZM280.50 482.06L280.50 481.78L287.50 479.53L287.50 482.06ZM287.50 482.06L287.50 479.53L294.50 480.79L294.50 482.06ZM294.50 482.06L294.50 480.79L301.50 478.62L301.50 482.06ZM301.50 482.06L301.50 478.62L308.50 475.14L308.50 482.06ZM308.50 482.06L308.50 475.14L313.91 482.06ZM328.85 482.06L329.50 481.77L329.50 482.06ZM329.50 482.06L329.50 481.77L336.50 480.42L336.50 482.06ZM336.50 482.06L336.50 480.42L339.36 482.06ZM390.40 482.06L392.50 481.93L392.50 482.06ZM392.50 482.06L392.50 481.93L399.50 477.04L399.50 482.06ZM399.50 482.06L399.50 477.04L406.50 476.64L406.50 482.06ZM406.50 482.06L406.50 476.64L413.50 474.35L413.50 482.06ZM413.50 482.06L413.50 474.35L420.50 474.25L420.50 482.06ZM420.50 482.06L420.50 474.25L427.50 479.78L427.50 482.06ZM427.50 482.06L427.50 479.78L434.42 482.06ZM680.07 482.06L686.50 479.13L686.50 482.06ZM686.50 482.06L686.50 479.13L693.50 476.49L693.50 482.06ZM693.50 482.06L693.50 476.49L697.99 482.06ZM758.89 482.06L763.50 480.22L763.50 482.06ZM763.50 482.06L763.50 480.22L765.40 482.06Z" fill="#6b9c6b" stroke="none"/>
<polyline clip-path="url(#cr)" points="28.5,500.6 35.5,499.2 42.5,497.2 49.5,497.6 56.5,487.6 63.5,485.7 70.5,485.4 77.5,484.3 84.5,482.3 91.5,482.1 98.5,484.8 105.5,495.0 112.5,495.3 119.5,499.3 126.5,491.1 133.5,494.4 140.5,492.8 147.5,492.9 154.5,491.1 161.5,488.6 168.5,488.6 175.5,492.9 182.5,488.1 189.5,487.7 196.5,485.1 203.5,487.7 210.5,485.8 217.5,496.1 224.5,491.0 231.5,497.8 238.5,498.0 245.5,499.8 252.5,494.0 259.5,488.1 266.5,488.1 273.5,484.2 280.5,481.8 287.5,479.5 294.5,480.8 301.5,478.6 308.5,475.1 315.5,484.1 322.5,484.9 329.5,481.8 336.5,480.4 343.5,484.4 350.5,483.6 357.5,488.6 364.5,486.5 371.5,483.1 378.5,483.3 385.5,482.4 392.5,481.9 399.5,477.0 406.5,476.6 413.5,474.4 420.5,474.2 427.5,479.8 434.5,482.1 441.5,488.7 448.5,509.6 455.5,496.4 462.5,501.4 469.5,495.8 476.5,496.7 483.5,491.0 490.5,493.9 497.5,486.5 504.5,484.6 511.5,484.4 518.5,488.2 525.5,488.3 532.5,495.9 539.5,498.8 546.5,503.4 553.5,491.0 560.5,495.8 567.5,492.7 574.5,491.0 581.5,488.8 588.5,496.5 595.5,503.8 602.5,499.4 609.5,493.2 616.5,496.6 623.5,495.0 630.5,492.9 637.5,490.6 644.5,484.8 651.5,485.5 658.5,482.4 665.5,484.3 672.5,485.8 679.5,482.3 686.5,479.1 693.5,476.5 700.5,485.2 707.5,489.3 714.5,496.1 721.5,491.1 728.5,489.0 735.5,485.9 742.5,483.5 749.5,483.1 756.5,483.0 763.5,480.2 770.5,487.0 777.5,482.3 784.5,487.0 791.5,516.7 798.5,503.8 805.5,505.0 812.5,502.0 819.5,507.3 826.5,503.1 833.5,495.8 840.5,495.7 847.5,500.8 854.5,496.6 861.5,491.5 868.5,484.8 875.5,483.7 882.5,483.8 889.5,494.3 896.5,492.7 903.5,491.5 910.5,502.9 917.5,500.2 924.5,509.4 931.5,508.3 938.5,497.4" fill="none" stroke="#222" stroke-width="1.2"/>
<path d="M875.5 481.5L946 509" stroke="#ff0000" stroke-width="2.2"/>
<rect x="32.5" y="437.5" width="914.0" height="137.0" fill="none" stroke="#c4c4c4" stroke-width="1"/>
<g><text x="949.8" y="460.6" font-size="9.1" fill="#000" textLength="11.6" lengthAdjust="spacingAndGlyphs" stroke="#000" stroke-width="0.2">90</text><text x="949.8" y="485.6" font-size="9.1" fill="#000" textLength="11.6" lengthAdjust="spacingAndGlyphs" stroke="#000" stroke-width="0.2">70</text><text x="949.8" y="509.6" font-size="9.1" fill="#000" textLength="11.6" lengthAdjust="spacingAndGlyphs" stroke="#000" stroke-width="0.2">50</text><text x="949.8" y="534.6" font-size="9.1" fill="#000" textLength="11.6" lengthAdjust="spacingAndGlyphs" stroke="#000" stroke-width="0.2">30</text><text x="949.8" y="559.6" font-size="9.1" fill="#000" textLength="11.6" lengthAdjust="spacingAndGlyphs" stroke="#000" stroke-width="0.2">10</text></g>
<path d="M946.5 439.5H948M946.5 441.5H948M946.5 443.5H948M946.5 445.5H948M946.5 447.5H948M946.5 449.5H948M946.5 451.5H948M946.5 453.5H948M946.5 455.5H948M946.5 457.5H948M946.5 459.5H948M946.5 461.5H948M946.5 463.5H948M946.5 465.5H948M946.5 467.5H948M946.5 469.5H948M946.5 471.5H948M946.5 473.5H948M946.5 475.5H948M946.5 477.5H948M946.5 479.5H948M946.5 481.5H948M946.5 483.5H948M946.5 485.5H948M946.5 487.5H948M946.5 489.5H948M946.5 491.5H948M946.5 493.5H948M946.5 495.5H948M946.5 497.5H948M946.5 499.5H948M946.5 501.5H948M946.5 503.5H948M946.5 505.5H948M946.5 507.5H948M946.5 509.5H948M946.5 511.5H948M946.5 513.5H948M946.5 515.5H948M946.5 517.5H948M946.5 519.5H948M946.5 521.5H948M946.5 523.5H948M946.5 525.5H948M946.5 527.5H948M946.5 529.5H948M946.5 531.5H948M946.5 533.5H948M946.5 535.5H948M946.5 537.5H948M946.5 539.5H948M946.5 541.5H948M946.5 543.5H948M946.5 545.5H948M946.5 547.5H948M946.5 549.5H948M946.5 551.5H948M946.5 553.5H948M946.5 555.5H948M946.5 557.5H948M946.5 559.5H948M946.5 561.5H948M946.5 563.5H948M946.5 565.5H948M946.5 567.5H948M946.5 569.5H948M946.5 571.5H948M946.5 573.5H948M946.5 568.5H949.2M946.5 556.5H949.2M946.5 544.5H949.2M946.5 531.5H949.2M946.5 519.5H949.2M946.5 506.5H949.2M946.5 494.5H949.2M946.5 482.5H949.2M946.5 469.5H949.2M946.5 457.5H949.2M946.5 444.5H949.2" stroke="#999" stroke-width="1"/>
<path d="M944.7 496.6L948 491.7H977.7V501.6H948Z" fill="#fff" stroke="#000" stroke-width="1.1"/><text x="948.5" y="499.6" font-size="9.1" fill="#000" textLength="27.0" lengthAdjust="spacingAndGlyphs">57.60</text>
<rect x="33" y="438" width="96" height="12" fill="#fff"/>
<path d="M35.4 447.8L35.4 445.3L36.4 443.5L37.4 441.4L38.4 440.4L39.5 439.4L39.7 441.7L40.5 442.7L41.3 444.7L42.3 443.5L43.4 441.4L43.4 447.8Z" fill="#8ab48a"/><path d="M35.4 447.8L35.4 445.3L36.4 443.5L37.4 441.4L38.4 440.4L39.5 439.4L39.7 441.7L40.5 442.7L41.3 444.7L42.3 443.5L43.4 441.4L43.4 447.8" fill="none" stroke="#000" stroke-width="1.1"/>
<text x="47.3" y="447.9" font-size="8.6" fill="#000" textLength="79.1" lengthAdjust="spacingAndGlyphs">RSI(14) 57.60</text>
</svg></body></html>
